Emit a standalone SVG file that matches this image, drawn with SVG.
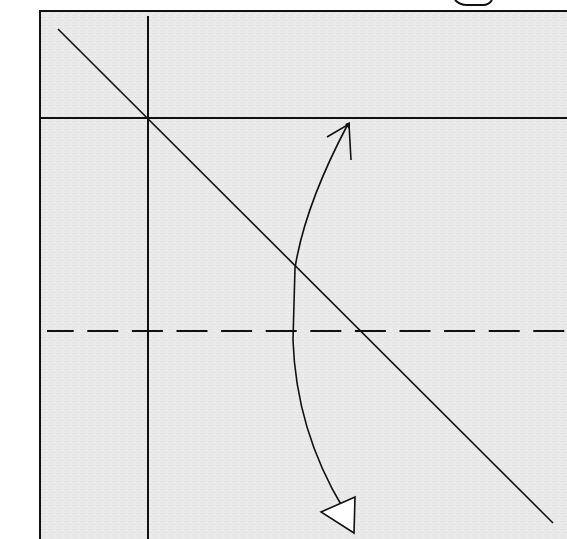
<svg xmlns="http://www.w3.org/2000/svg" width="567" height="539" viewBox="0 0 567 539">
<style>
.ln{stroke:#111;stroke-width:2;fill:none}
.th{stroke:#111;stroke-width:1.6;fill:none}
</style>
<defs>
<pattern id="tex" width="8" height="8" patternUnits="userSpaceOnUse">
<rect width="8" height="8" fill="#ebebeb"/>
<path d="M0 1.5H6M2 4.5H8M0 7H5" stroke="#e2e2e2" stroke-width="1"/>
</pattern>
</defs>
<rect width="567" height="539" fill="#fff"/>
<g id="frame">
<rect x="40" y="11" width="540" height="540" fill="url(#tex)"/>
<path class="ln" d="M40 539V11H567"/>
</g>
<g id="top-mark">
<path class="ln" d="M455 0Q460 5 467 5H483Q489 5 492 0"/>
</g>
<g id="connectors">
<line class="ln" x1="148" y1="16" x2="148" y2="539"/>
<line class="ln" x1="40" y1="118" x2="567" y2="118"/>
<line class="th" x1="58" y1="29" x2="553" y2="523"/>
<line class="ln" x1="47" y1="331" x2="567" y2="331" stroke-dasharray="31 13.6" stroke-dashoffset="4.3"/>
<path class="th" d="M348 124Q305 205 295 268L293 340Q296 430 343 508"/>
<path class="th" d="M327 137L349 124L351 160"/>
<path d="M345 124L350 122L350 130Z" fill="#111"/>
<path d="M321 512L355 497L354 533Z" fill="#fff" stroke="#111" stroke-width="1.6" stroke-linejoin="miter"/>
</g>
</svg>
